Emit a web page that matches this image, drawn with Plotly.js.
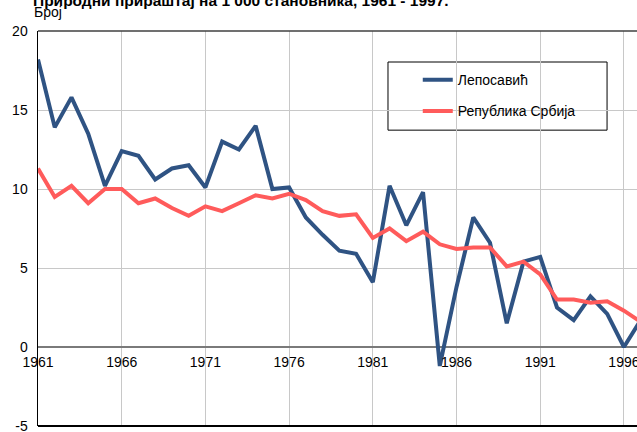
<!DOCTYPE html>
<html>
<head>
<meta charset="utf-8">
<script src="https://cdn.plot.ly/plotly-3.0.1.min.js"></script>
<style>html,body{margin:0;padding:0;background:#fff;overflow:hidden}#chart{width:637px;height:432px}</style>
</head>
<body>
<div id="chart"></div>
<script>
var years = [1961,1962,1963,1964,1965,1966,1967,1968,1969,1970,1971,1972,1973,1974,1975,1976,1977,1978,1979,1980,1981,1982,1983,1984,1985,1986,1987,1988,1989,1990,1991,1992,1993,1994,1995,1996,1997];
var leposavic = [18.2,13.9,15.8,13.5,10.2,12.4,12.1,10.6,11.3,11.5,10.1,13.0,12.5,14.0,10.0,10.1,8.2,7.1,6.1,5.9,4.1,10.2,7.7,9.8,-1.2,3.8,8.2,6.6,1.5,5.4,5.7,2.5,1.7,3.2,2.1,0.0,1.7];
var srbija = [11.3,9.5,10.2,9.1,10.0,10.0,9.1,9.4,8.8,8.3,8.9,8.6,9.1,9.6,9.4,9.7,9.3,8.6,8.3,8.4,6.9,7.5,6.7,7.3,6.5,6.2,6.3,6.3,5.1,5.4,4.6,3.0,3.0,2.8,2.9,2.3,1.6];
var seriesNames = ["Лепосавић", "Република Србија"];
var xTicks = [1961,1966,1971,1976,1981,1986,1991,1996];
var yTicks = [-5,0,5,10,15,20];
var titleText = "Природни прираштај на 1 000 становника, 1961 - 1997.";
var yTitleText = "Број";

var traces = [
  {x: years, y: leposavic, name: seriesNames[0], type: 'scatter', mode: 'lines',
   line: {color: '#2f5383', width: 4}, legendgroup: 'a'},
  {x: years, y: srbija, name: seriesNames[1], type: 'scatter', mode: 'lines',
   line: {color: '#ff5b5b', width: 4}, legendgroup: 'b'}
];

var layout = {
  width: 637, height: 432,
  margin: {l: 38, r: 0, t: 31, b: 6},
  paper_bgcolor: '#ffffff', plot_bgcolor: '#ffffff',
  font: {family: 'Liberation Sans, Arial, sans-serif', size: 14, color: '#000'},
  title: {text: '<b>' + titleText + '</b>', x: 33/637, xanchor: 'left', xref: 'container',
          y: 0.998, yanchor: 'middle', yref: 'container', font: {size: 15.5, color: '#000'}},
  showlegend: true,
  legend: {x: 0.634, y: 0.916, xanchor: 'left', yanchor: 'top', bgcolor: 'rgba(0,0,0,0)',
           borderwidth: 0, tracegroupgap: 10, font: {size: 14, color: '#000'}},
  xaxis: {range: [1961, 1996.78], tickvals: xTicks, ticktext: xTicks.map(String),
          showgrid: true, gridcolor: '#c8c8c8', gridwidth: 1, zeroline: false,
          showline: false, ticks: '', anchor: 'free', position: 0.2, fixedrange: true,
          ticklabeloverflow: 'allow', ticklabelstandoff: 5},
  yaxis: {range: [-5, 20], tickvals: yTicks, ticktext: yTicks.map(String),
          showgrid: true, gridcolor: '#c8c8c8', gridwidth: 1,
          zeroline: true, zerolinecolor: '#7a7a7a', zerolinewidth: 2,
          showline: true, linecolor: '#000', linewidth: 1.5, ticks: '', fixedrange: true,
          ticklabeloverflow: 'allow', ticklabelstandoff: 6},
  shapes: [
    {type: 'rect', xref: 'paper', yref: 'paper', x0: 0.5843, x1: 0.950, y0: 0.749, y1: 0.9215,
     line: {color: '#000', width: 1}, fillcolor: '#fff', layer: 'between'},
    {type: 'line', xref: 'paper', yref: 'paper', x0: 0, x1: 1, y0: 1, y1: 1,
     line: {color: '#404040', width: 1.5}},
    {type: 'line', xref: 'paper', yref: 'paper', x0: 0, x1: 1, y0: 0, y1: 0,
     line: {color: '#000', width: 2}}
  ],
  annotations: [
    {text: yTitleText, xref: 'paper', yref: 'paper', x: -6/599, y: 1, xanchor: 'left', yanchor: 'bottom',
     yshift: 9, showarrow: false, font: {size: 14, color: '#000'}}
  ]
};

Plotly.newPlot('chart', traces, layout, {displayModeBar: false, staticPlot: true});
</script>
</body>
</html>
